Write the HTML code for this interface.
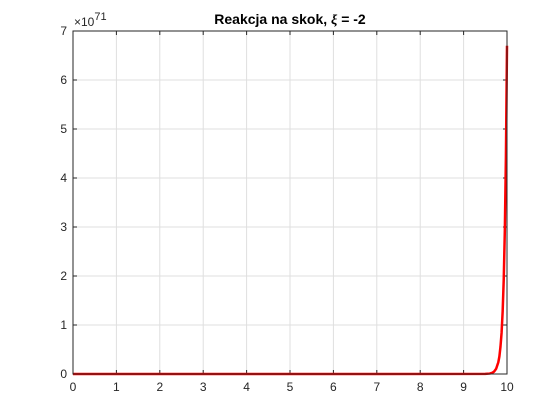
<!DOCTYPE html>
<html><head><meta charset="utf-8"><style>
body{margin:0;background:#fff;}
svg{display:block;font-family:"Liberation Sans",sans-serif;}
</style></head><body>
<svg id="chart" width="560" height="420">
<rect x="0" y="0" width="560" height="420" fill="#fff"/>
<g id="grid"></g>
<g id="ticks"></g>
<path id="line" fill="none" stroke="#ff0000" stroke-width="2.5" stroke-linejoin="round"/>
<rect x="73" y="31" width="434" height="343" fill="none" stroke="#262626" stroke-width="1"/>
<text x="290" y="24" text-anchor="middle" font-size="14" font-weight="bold" fill="#000">Reakcja na skok, <tspan font-family="Liberation Serif" font-style="italic">ξ</tspan> = -2</text>
<text x="74" y="26" font-size="12" fill="#262626">×10<tspan dy="-6" font-size="11">71</tspan></text>
</svg>
<script>
const xTicks=[0,1,2,3,4,5,6,7,8,9,10];
const yTicks=[0,1,2,3,4,5,6,7];
const tVals=[0,9.5,9.6,9.65,9.7,9.75,9.8,9.825,9.85,9.875,9.9,9.925,9.95,9.975,10];
const yVals=[0,0.0017,0.009,0.02,0.047,0.107,0.24,0.36,0.56,0.84,1.28,1.94,2.93,4.43,6.7];
const X0=73,X1=507,Y0=374,Y1=31;
const sx=v=>X0+(v-0)/(10-0)*(X1-X0);
const sy=v=>Y0-(v-0)/(7-0)*(Y0-Y1);
const ns="http://www.w3.org/2000/svg";
const grid=document.getElementById('grid'),ticks=document.getElementById('ticks');
function mk(tag,attrs,parent){const e=document.createElementNS(ns,tag);for(const k in attrs)e.setAttribute(k,attrs[k]);parent.appendChild(e);return e;}
xTicks.forEach(v=>{const x=sx(v);
 const g=mk('line',{x1:x,x2:x,y1:Y1,y2:Y0,stroke:'#dfdfdf','stroke-width':1},grid);
 
 
 mk('line',{x1:x,x2:x,y1:Y0,y2:Y0-4,stroke:'#262626'},ticks);
 mk('line',{x1:x,x2:x,y1:Y1,y2:Y1+4,stroke:'#262626'},ticks);
 const t=mk('text',{x:x,y:Y0+17,'text-anchor':'middle','font-size':12,fill:'#262626'},ticks);
 t.textContent=v;
 
 
});
yTicks.forEach(v=>{const y=sy(v);
 const g=mk('line',{x1:X0,x2:X1,y1:y,y2:y,stroke:'#dfdfdf','stroke-width':1},grid);
 
 
 mk('line',{x1:X0,x2:X0+4,y1:y,y2:y,stroke:'#262626'},ticks);
 mk('line',{x1:X1,x2:X1-4,y1:y,y2:y,stroke:'#262626'},ticks);
 const t=mk('text',{x:X0-6,y:y+4,'text-anchor':'end','font-size':12,fill:'#262626'},ticks);
 t.textContent=v;
 
 
});
document.getElementById('line').setAttribute('d',tVals.map((t,i)=>(i?'L':'M')+sx(t).toFixed(2)+','+sy(yVals[i]).toFixed(2)).join(' '));
</script>
</body></html>
